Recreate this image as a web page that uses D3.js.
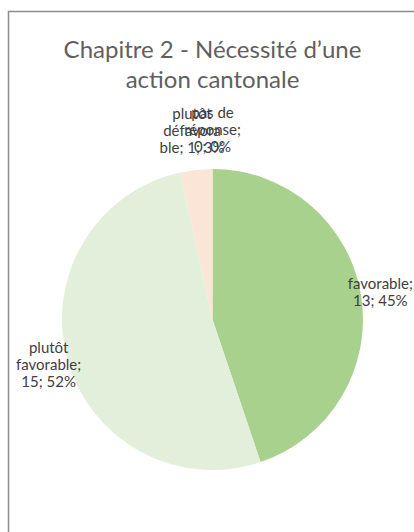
<!DOCTYPE html>
<html>
<head>
<meta charset="utf-8">
<script src="https://cdn.jsdelivr.net/npm/d3@7"></script>
<style>
  html, body { margin: 0; padding: 0; background: #fff; }
  svg { display: block; }
</style>
</head>
<body>
<svg width="414" height="532"></svg>
<script>
// data
var categories = ["favorable", "plutôt favorable", "plutôt défavorable", "pas de réponse"];
var counts = [13, 15, 1, 0];
var colors = ["#A9D18E", "#E2EFDA", "#FBE5D6", "#F8CBAD"];
var titleLines = ["Chapitre 2 - Nécessité d\u2019une", "action cantonale"];

var svg = d3.select("svg"),
    width = +svg.attr("width"),
    height = +svg.attr("height");

var cx = 212.5, cy = 319.5, radius = 150.5;

// chart area border (runs off the right and bottom)
svg.append("rect")
    .attr("x", 8.5).attr("y", 11.5)
    .attr("width", 600).attr("height", 600)
    .attr("fill", "#fff")
    .attr("stroke", "#8c8c8c")
    .attr("stroke-width", 1.5);

svg.append("text")
    .attr("text-anchor", "middle")
    .attr("font-family", "Lato, 'Open Sans', sans-serif")
    .attr("font-size", 24)
    .attr("fill", "#5f5f5f")
  .selectAll("tspan")
  .data(titleLines)
  .enter().append("tspan")
    .attr("x", cx)
    .attr("y", function(d, i) { return 58 + i * 30; })
    .text(function(d) { return d; });

var total = d3.sum(counts);
var data = categories.map(function(c, i) { return {name: c, value: counts[i], color: colors[i]}; });

var pie = d3.pie().sort(null).value(function(d) { return d.value; });
var arc = d3.arc().innerRadius(0).outerRadius(radius);

var g = svg.append("g").attr("transform", "translate(" + cx + "," + cy + ")");

var arcs = pie(data);

g.selectAll(".slice")
  .data(arcs.filter(function(d) { return d.value > 0; }))
  .enter().append("path")
    .attr("class", "slice")
    .attr("d", arc)
    .attr("fill", function(d) { return d.data.color; });

// labels: "name; value; pct%" wrapped like excel does
// (long words get cut a bit shorter than a full line)
var labelSize = 15, lineH = 17, maxW = 69.5, cutW = 61;

function wrap(textEl, str) {
  var words = str.split(" "), lines = [], cur = "";
  function w(s) { textEl.text(s); return textEl.node().getComputedTextLength(); }
  words.forEach(function(word) {
    var trial = cur ? cur + " " + word : word;
    if (w(trial) <= maxW) { cur = trial; return; }
    if (cur) lines.push(cur);
    cur = word;
    while (w(cur) > maxW) {
      var k = cur.length - 1;
      while (k > 1 && w(cur.slice(0, k)) > cutW) k--;
      lines.push(cur.slice(0, k));
      cur = cur.slice(k);
    }
  });
  if (cur) lines.push(cur);
  textEl.text(null);
  return lines;
}

var labels = g.selectAll(".label")
  .data(arcs)
  .enter().append("text")
    .attr("class", "label")
    .attr("text-anchor", "middle")
    .attr("font-family", "Lato, 'Open Sans', sans-serif")
    .attr("font-size", labelSize)
    .attr("fill", "#404040");

labels.each(function(d) {
  var t = d3.select(this);
  var pct = Math.round(d.value / total * 100);
  var lines = wrap(t, d.data.name + "; " + d.value + "; " + pct + "%");
  var mid = (d.startAngle + d.endAngle) / 2;
  var top = Math.abs(Math.cos(mid)) > 0.95;
  var r = top ? radius * 1.26 : radius * 1.13;
  var x = r * Math.sin(mid), y = -r * Math.cos(mid);
  var y0 = y - (lines.length - 1) * lineH / 2 + labelSize * 0.35;
  t.selectAll("tspan")
    .data(lines)
    .enter().append("tspan")
      .attr("x", x)
      .attr("y", function(l, i) { return y0 + i * lineH; })
      .text(function(l) { return l; });
});
</script>
</body>
</html>
